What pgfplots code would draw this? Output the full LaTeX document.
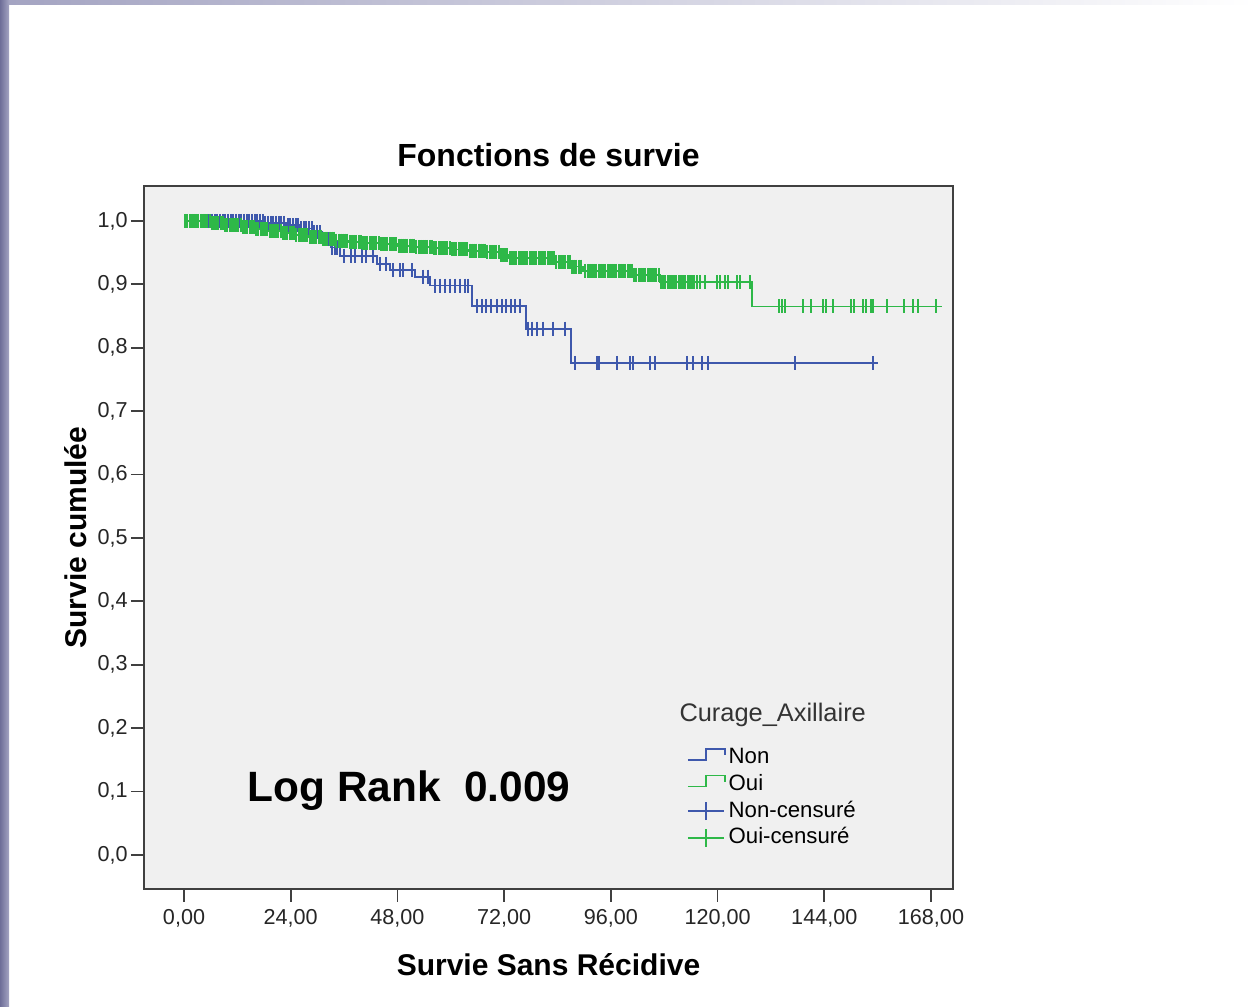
\documentclass[border=0pt]{standalone}
\usepackage{fontspec}
\setmainfont{Liberation Sans}
\usepackage{pgfplots}
\pgfplotsset{compat=1.18}
\definecolor{spssblue}{HTML}{3E58AC}
\definecolor{spssgreen}{HTML}{2EB848}
\definecolor{plotbg}{HTML}{F0F0F0}
\definecolor{stripdark}{HTML}{6E6E98}
\definecolor{striplight}{HTML}{A4A4C2}
\begin{document}
\begin{tikzpicture}
\useasboundingbox (0,0) rectangle (627pt,503.5pt);
\fill[white] (0,0) rectangle (627pt,503.5pt);
\shade[left color=stripdark, right color=striplight] (0,0) rectangle (4.5pt,503.5pt);
\shade[left color=striplight, right color=white] (4.5pt,501.2pt) rectangle (627pt,503.5pt);
\begin{axis}[
  at={(72pt,59pt)}, anchor=south west,
  width=404.5pt, height=351.5pt, scale only axis,
  xmin=-9, xmax=172.95, ymin=-0.0536, ymax=1.055,
  axis background/.style={fill=plotbg},
  axis line style={black!75, line width=0.9pt},
  tick align=outside, tick pos=left,
  major tick length=6.5pt,
  tick style={black!75, line width=0.9pt},
  xtick={0,24,48,72,96,120,144,168},
  ytick={0,0.1,0.2,0.3,0.4,0.5,0.6,0.7,0.8,0.9,1.0},
  scaled ticks=false,
  tick label style={font=\fontsize{10.8}{13}\selectfont, text=black!85},
  xticklabel style={/pgf/number format/.cd, fixed, fixed zerofill, precision=2, use comma, assume math mode=true},
  yticklabel style={xshift=1.8pt, /pgf/number format/.cd, fixed, fixed zerofill, precision=1, use comma, assume math mode=true},
  title={Fonctions de survie},
  title style={at={(rel axis cs:0.5,1)}, anchor=base, yshift=3.5pt, font=\bfseries\fontsize{16}{19}\selectfont},
  xlabel={Survie Sans Récidive},
  xlabel style={at={(rel axis cs:0.5,0)}, anchor=base, yshift=-43.5pt, font=\bfseries\fontsize{15}{18}\selectfont},
  ylabel={Survie cumulée},
  ylabel style={at={(rel axis cs:0,0.5)}, anchor=base, yshift=28.5pt, font=\bfseries\fontsize{15}{18}\selectfont},
  legend style={at={(axis cs:113.1,0.169)}, anchor=north west, draw=none, fill=none, inner sep=0pt, outer sep=0pt, row sep=3.35pt, column sep=1.5pt, font=\fontsize{11.1}{13}\selectfont, nodes={inner sep=0pt, text height=8pt, text depth=2pt}, cells={anchor=west}},
]
% Non (blue) survival curve
\addplot[const plot, color=spssblue, line width=0.9pt,
  legend image code/.code={\draw[spssblue, line width=0.9pt] (0pt,-1pt) -- (9pt,-1pt) -- (9pt,4.5pt) -- (18.5pt,4.5pt) -- (18.5pt,1.5pt);}]
coordinates {(0,1.0) (18,0.997) (23,0.993) (26,0.988) (29,0.982) (31,0.972) (33,0.958) (35,0.945) (43.4,0.932) (46.3,0.922) (52,0.912) (55.3,0.898) (64.8,0.866) (76.9,0.830) (87,0.776) (156.1,0.776)};
\addlegendentry{Non}
% Oui (green) survival curve
\addplot[const plot, color=spssgreen, line width=0.9pt,
  legend image code/.code={\draw[spssgreen, line width=0.9pt] (0pt,-1pt) -- (9pt,-1pt) -- (9pt,4.5pt) -- (18.5pt,4.5pt) -- (18.5pt,1.5pt);}]
coordinates {(0,1.0) (6,0.997) (9,0.994) (13,0.990) (16,0.987) (19,0.984) (22,0.981) (25,0.978) (28,0.975) (31,0.972) (34,0.969) (37,0.967) (40,0.965) (44,0.963) (48,0.961) (52,0.959) (56,0.957) (60,0.955) (64,0.953) (68,0.951) (71,0.946) (73,0.941) (83.4,0.935) (86.8,0.928) (89.7,0.921) (100.8,0.915) (107,0.903) (127.8,0.865) (170.5,0.865)};
\addlegendentry{Oui}
% Non censored
\addplot[only marks, mark=|, mark size=3.5pt, color=spssblue, mark options={line width=1pt},
  legend image code/.code={\draw[spssblue, line width=0.9pt] (0pt,0pt) -- (18pt,0pt); \draw[spssblue, line width=0.9pt] (9pt,-4.5pt) -- (9pt,4.5pt);}]
coordinates {
(4.5,1.0) (5.1,1.0) (5.7,1.0) (6.3,1.0) (6.9,1.0) (7.5,1.0) (8.1,1.0) (8.7,1.0) (9.3,1.0) (9.9,1.0) (10.5,1.0) (11.1,1.0) (11.7,1.0) (12.3,1.0) (12.9,1.0) (13.5,1.0) (14.1,1.0) (14.7,1.0) (15.3,1.0) (15.9,1.0) (16.5,1.0) (17.1,1.0) (17.7,1.0)
(18.3,0.997) (18.9,0.997) (19.5,0.997) (20.1,0.997) (20.7,0.997) (21.3,0.997) (21.9,0.997) (22.5,0.997)
(23.3,0.993) (23.9,0.993) (24.5,0.993) (25.1,0.993) (25.7,0.993)
(26.3,0.988) (26.9,0.988) (27.5,0.988) (28.1,0.988) (28.7,0.988)
(29.3,0.982) (29.9,0.982) (30.5,0.982)
(31.3,0.972) (31.9,0.972) (32.5,0.972)
(33.3,0.958) (33.9,0.958) (34.5,0.958)
(36,0.945) (37.5,0.945) (38.5,0.945) (40,0.945) (41,0.945) (42.5,0.945)
(44,0.932) (45.5,0.932)
(47,0.922) (48.5,0.922) (49.3,0.922) (51.3,0.922)
(53.8,0.912) (54.9,0.912)
(56.5,0.898) (57.6,0.898) (58.7,0.898) (59.8,0.898) (61.0,0.898) (62.1,0.898) (63.2,0.898) (63.9,0.898)
(65.9,0.866) (67,0.866) (68,0.866) (69,0.866) (70.5,0.866) (71.5,0.866) (72.5,0.866) (73.5,0.866) (74.5,0.866) (75.5,0.866)
(77.4,0.830) (78.3,0.830) (79.4,0.830) (80.7,0.830) (83.0,0.830) (85.7,0.830)
(87.9,0.776) (92.9,0.776) (93.3,0.776) (97.4,0.776) (100.3,0.776) (101.0,0.776) (104.8,0.776) (105.9,0.776) (113.1,0.776) (114.5,0.776) (116.5,0.776) (117.9,0.776) (137.4,0.776) (155.0,0.776)
};
\addlegendentry{Non-censuré}
% Oui censored
\addplot[only marks, mark=|, mark size=3.5pt, color=spssgreen, mark options={line width=1pt},
  legend image code/.code={\draw[spssgreen, line width=0.9pt] (0pt,0pt) -- (18pt,0pt); \draw[spssgreen, line width=0.9pt] (9pt,-4.5pt) -- (9pt,4.5pt);}]
coordinates {
(0.25,1.0) (0.75,1.0) (1.25,1.0) (1.75,1.0) (2.25,1.0) (2.75,1.0) (3.25,1.0) (3.75,1.0) (4.25,1.0) (4.75,1.0) (5.25,1.0) (5.75,1.0)
(6.25,0.997) (6.75,0.997) (7.25,0.997) (7.75,0.997) (8.25,0.997) (8.75,0.997)
(9.25,0.994) (9.75,0.994) (10.25,0.994) (10.75,0.994) (11.25,0.994) (11.75,0.994) (12.25,0.994) (12.75,0.994)
(13.25,0.990) (13.75,0.990) (14.25,0.990) (14.75,0.990) (15.25,0.990) (15.75,0.990)
(16.25,0.987) (16.75,0.987) (17.25,0.987) (17.75,0.987) (18.25,0.987) (18.75,0.987)
(19.25,0.984) (19.75,0.984) (20.25,0.984) (20.75,0.984) (21.25,0.984) (21.75,0.984)
(22.25,0.981) (22.75,0.981) (23.25,0.981) (23.75,0.981) (24.25,0.981) (24.75,0.981)
(25.25,0.978) (25.75,0.978) (26.25,0.978) (26.75,0.978) (27.25,0.978) (27.75,0.978)
(28.25,0.975) (28.75,0.975) (29.25,0.975) (29.75,0.975) (30.25,0.975) (30.75,0.975)
(31.25,0.972) (31.75,0.972) (32.25,0.972) (32.75,0.972) (33.25,0.972) (33.75,0.972)
(34.25,0.969) (34.75,0.969) (35.25,0.969) (35.75,0.969) (36.25,0.969) (36.75,0.969)
(37.25,0.967) (37.75,0.967) (38.25,0.967) (38.75,0.967) (39.25,0.967) (39.75,0.967)
(40.25,0.965) (40.75,0.965) (41.25,0.965) (41.75,0.965) (42.25,0.965) (42.75,0.965) (43.25,0.965) (43.75,0.965)
(44.25,0.963) (44.75,0.963) (45.25,0.963) (45.75,0.963) (46.25,0.963) (46.75,0.963) (47.25,0.963) (47.75,0.963)
(48.25,0.961) (48.75,0.961) (49.25,0.961) (49.75,0.961) (50.25,0.961) (50.75,0.961) (51.25,0.961) (51.75,0.961)
(52.25,0.959) (52.75,0.959) (53.25,0.959) (53.75,0.959) (54.25,0.959) (54.75,0.959) (55.25,0.959) (55.75,0.959)
(56.25,0.957) (56.75,0.957) (57.25,0.957) (57.75,0.957) (58.25,0.957) (58.75,0.957) (59.25,0.957) (59.75,0.957)
(60.25,0.955) (60.75,0.955) (61.25,0.955) (61.75,0.955) (62.25,0.955) (62.75,0.955) (63.25,0.955) (63.75,0.955)
(64.25,0.953) (64.75,0.953) (65.25,0.953) (65.75,0.953) (66.25,0.953) (66.75,0.953) (67.25,0.953) (67.75,0.953)
(68.25,0.951) (68.75,0.951) (69.25,0.951) (69.75,0.951) (70.25,0.951) (70.75,0.951)
(71.25,0.946) (71.75,0.946) (72.25,0.946) (72.75,0.946)
(73.25,0.941) (73.75,0.941) (74.25,0.941) (74.75,0.941) (75.25,0.941) (75.75,0.941) (76.25,0.941) (76.75,0.941) (77.25,0.941) (77.75,0.941) (78.25,0.941) (78.75,0.941) (79.25,0.941) (79.75,0.941) (80.25,0.941) (80.75,0.941) (81.25,0.941) (81.75,0.941) (82.25,0.941) (82.75,0.941) (83.25,0.941)
(83.75,0.935) (84.25,0.935) (84.75,0.935) (85.25,0.935) (85.75,0.935) (86.25,0.935) (86.75,0.935)
(87.25,0.928) (87.75,0.928) (88.25,0.928) (88.75,0.928) (89.25,0.928)
(90.25,0.921) (90.75,0.921) (91.25,0.921) (91.75,0.921) (92.25,0.921) (92.75,0.921) (93.25,0.921) (93.75,0.921) (94.25,0.921) (94.75,0.921) (95.25,0.921) (95.75,0.921) (96.25,0.921) (96.75,0.921) (97.25,0.921) (97.75,0.921) (98.25,0.921) (98.75,0.921) (99.25,0.921) (99.75,0.921) (100.25,0.921) (100.75,0.921)
(101.25,0.915) (101.75,0.915) (102.25,0.915) (102.75,0.915) (103.25,0.915) (103.75,0.915) (104.25,0.915) (104.75,0.915) (105.25,0.915) (105.75,0.915) (106.25,0.915) (106.75,0.915)
(107.25,0.903) (107.75,0.903) (108.25,0.903) (108.75,0.903) (109.25,0.903) (109.75,0.903) (110.25,0.903) (110.75,0.903) (111.25,0.903) (111.75,0.903) (112.25,0.903) (112.75,0.903) (113.25,0.903) (113.75,0.903) (114.25,0.903) (114.75,0.903)
(115.4,0.903) (116,0.903) (117.2,0.903) (119.9,0.903) (120.6,0.903) (121.7,0.903) (122.4,0.903) (124.4,0.903) (125.1,0.903) (127.3,0.903)
(133.8,0.865) (134.5,0.865) (135.2,0.865) (139.2,0.865) (141.0,0.865) (143.7,0.865) (144.4,0.865) (146.0,0.865) (150.1,0.865) (150.6,0.865) (152.7,0.865) (153.4,0.865) (154.5,0.865) (155.0,0.865) (158.1,0.865) (161.9,0.865) (163.9,0.865) (165.1,0.865) (169.1,0.865)
};
\addlegendentry{Oui-censuré}
\node[anchor=base, font=\bfseries\fontsize{21.2}{25}\selectfont] at (axis cs:50.6,0.085) {Log Rank\ \ 0.009};
\node[anchor=base, font=\fontsize{12.7}{15}\selectfont, text=black!80] at (axis cs:132.4,0.210) {Curage\_Axillaire};
\end{axis}
\end{tikzpicture}
\end{document}
